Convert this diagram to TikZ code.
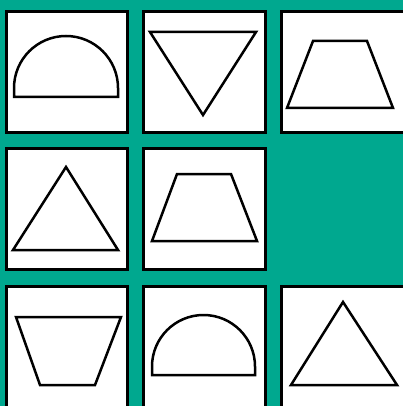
\documentclass[tikz,border=0pt]{standalone}
\definecolor{teal0}{RGB}{0,168,143}
\tikzset{
  tilebox/.style={draw=black, fill=white, line width=3pt},
  shapeline/.style={draw=black, line width=2.5pt, line join=miter}
}
\begin{document}
\begin{tikzpicture}[x=1pt,y=-1pt]
\useasboundingbox (0,0) rectangle (403,406);
\clip (0,0) rectangle (403,406);
\fill[teal0] (0,0) rectangle (403,406);
% tile 1: semicircle
\begin{scope}[shift={(5,10)}]
  \draw[tilebox] (1.5,1.5) rectangle (122.5,122.5);
  \draw[shapeline] (9,87) -- (9,78) arc[start angle=180,end angle=360,radius=52] -- (113,87) -- cycle;
\end{scope}
% tile 2: inverted triangle
\begin{scope}[shift={(142,10)}]
  \draw[tilebox] (1.5,1.5) rectangle (123.5,122.5);
  \draw[shapeline] (8,22) -- (114,22) -- (61,105) -- cycle;
\end{scope}
% tile 3: trapezoid
\begin{scope}[shift={(280,10)}]
  \draw[tilebox] (1.5,1.5) rectangle (128,122.5);
  \draw[shapeline] (33,31) -- (87,31) -- (113,98) -- (7,98) -- cycle;
\end{scope}
% tile 4: triangle
\begin{scope}[shift={(5,147)}]
  \draw[tilebox] (1.5,1.5) rectangle (122.5,122.5);
  \draw[shapeline] (61,20) -- (113,103) -- (8,103) -- cycle;
\end{scope}
% tile 5: trapezoid
\begin{scope}[shift={(142,147)}]
  \draw[tilebox] (1.5,1.5) rectangle (123.5,122.5);
  \draw[shapeline] (35,27) -- (89,27) -- (115,94) -- (10,94) -- cycle;
\end{scope}
% tile 7: inverted trapezoid
\begin{scope}[shift={(5,285)}]
  \draw[tilebox] (1.5,1.5) rectangle (122.5,126);
  \draw[shapeline] (11,32) -- (116,32) -- (90,100) -- (35,100) -- cycle;
\end{scope}
% tile 8: semicircle
\begin{scope}[shift={(142,285)}]
  \draw[tilebox] (1.5,1.5) rectangle (123.5,126);
  \draw[shapeline] (10,90) -- (10,81.5) arc[start angle=180,end angle=360,radius=51.5] -- (113,90) -- cycle;
\end{scope}
% tile 9: triangle
\begin{scope}[shift={(280,285)}]
  \draw[tilebox] (1.5,1.5) rectangle (128,126);
  \draw[shapeline] (63,17) -- (117,100) -- (11,100) -- cycle;
\end{scope}
\end{tikzpicture}
\end{document}
